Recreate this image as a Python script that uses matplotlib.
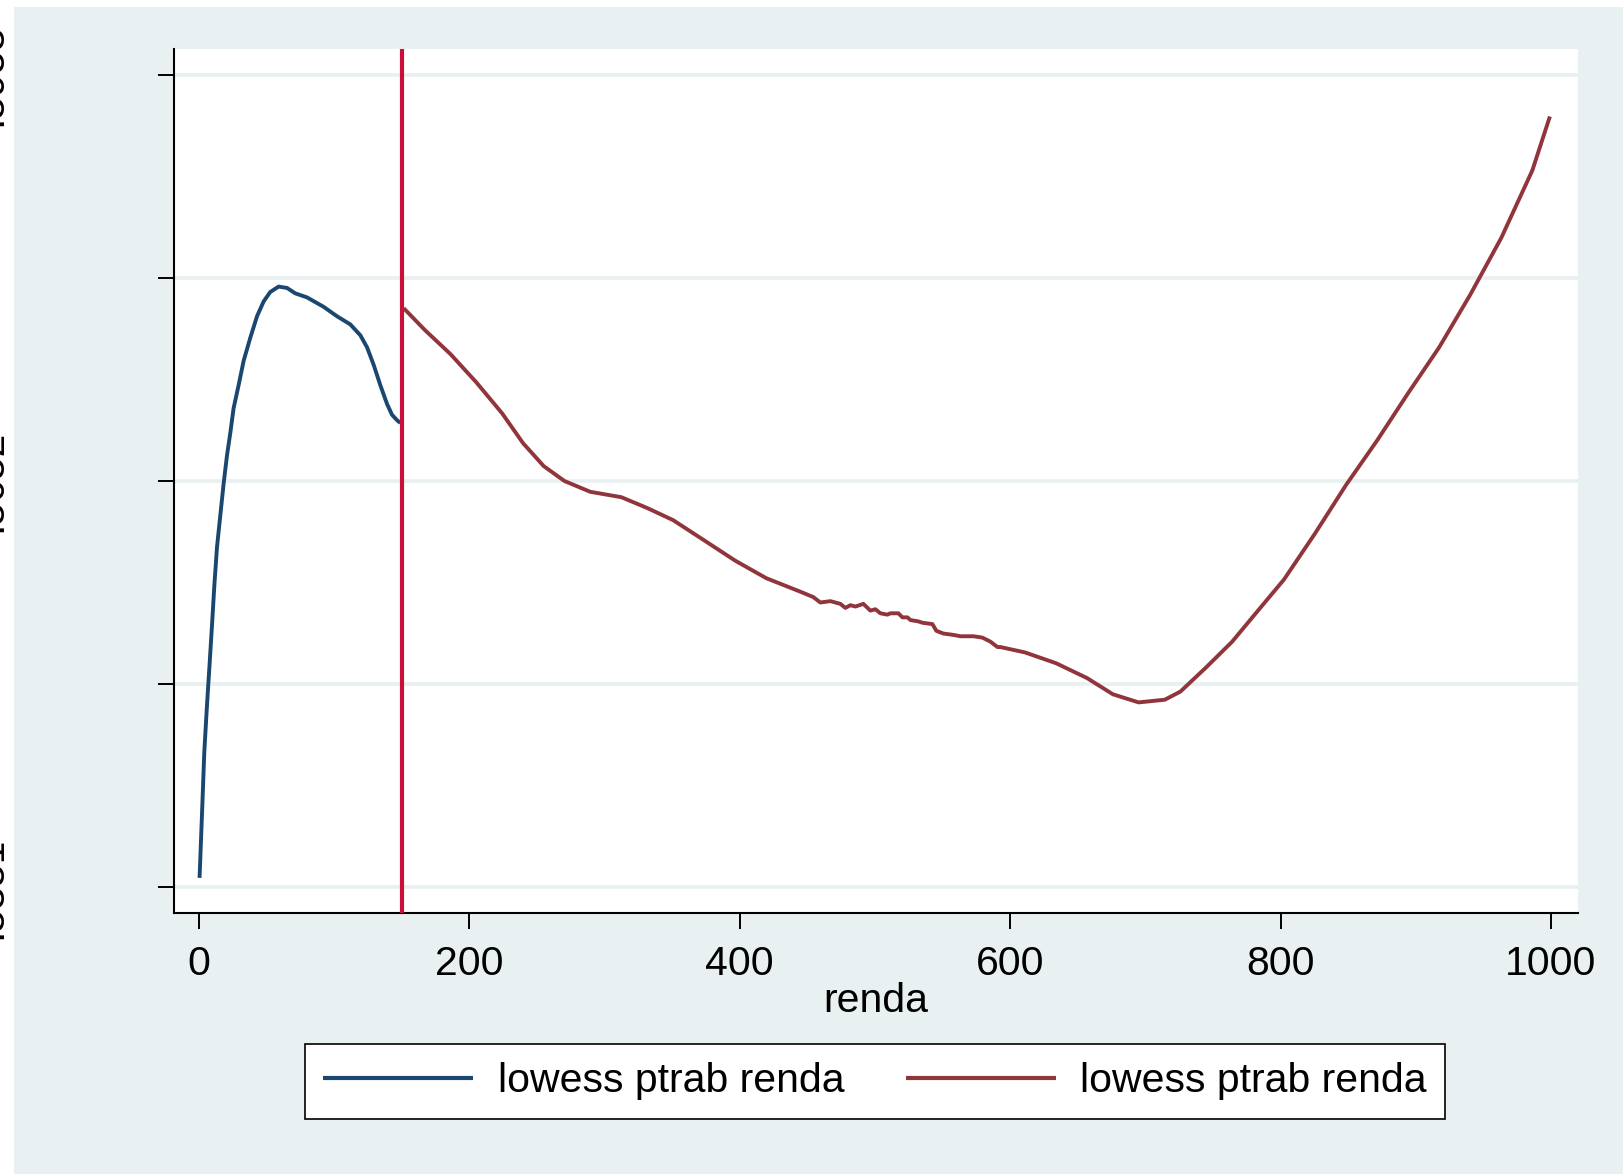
import matplotlib
matplotlib.use("Agg")
import matplotlib.pyplot as plt
from matplotlib.patches import Rectangle

# lowess fit of ptrab on renda, below the cutoff
renda_low = [0.4, 2.2, 3.9, 5.9, 7.8, 9.6, 11.3, 13.3, 15.8, 18.2, 20.7, 23.2, 25.6,
             29.3, 33, 37.9, 42.9, 47.8, 52.7, 58.9, 65.1, 71.2, 79.9, 92.2, 102.1,
             111.9, 119.3, 124.3, 129.2, 134.1, 139.1, 142.8, 146.5, 148.9]
ptrab_low = [.5358, .5405, .5451, .5486, .5516, .5545, .5574, .5603, .5627, .5650,
             .5671, .5688, .5706, .5723, .5741, .5758, .5774, .5785, .5792, .5796,
             .5795, .5791, .5788, .5781, .5774, .5768, .5760, .5751, .5738, .5723,
             .5709, .5701, .5697, .5695]

# lowess fit of ptrab on renda, above the cutoff
renda_high = [151.4, 166.9, 186, 205.2, 224.3, 239.7, 255, 270.3, 289.4, 312.4, 331.5,
              350.7, 373.7, 396.6, 419.6, 444.8, 454.4, 459.6, 467, 474.4, 478.1,
              481.8, 485.5, 491.4, 496.6, 500.3, 504, 509.2, 511.4, 517.3, 520.3,
              524, 526.2, 532.1, 535.1, 542.5, 545.4, 550.6, 558, 563.2, 572.8,
              579.4, 585.4, 590.6, 592.8, 611, 634, 656.9, 676, 695, 714.4, 725.9,
              745, 764.2, 783.3, 802.5, 825.4, 848.4, 871.4, 894.3, 917.3, 940.3,
              963.2, 986.2, 999.2]
ptrab_high = [.5780, .5764, .5746, .5725, .5702, .5680, .5663, .5652, .5644, .5640,
              .5632, .5623, .5608, .5593, .5580, .5570, .5566, .5562, .5563, .5561,
              .5558, .5560, .5559, .5561, .5556, .5557, .5554, .5553, .5554, .5554,
              .5551, .5551, .5549, .5548, .5547, .5546, .5541, .5539, .5538, .5537,
              .5537, .5536, .5533, .5529, .5529, .5525, .5517, .5506, .5494, .5488,
              .5490, .5496, .5514, .5533, .5556, .5579, .5613, .5649, .5682, .5717,
              .5751, .5790, .5832, .5882, .5922]

cutoff = 150
y_ticks = [.5351, .55015, .5652, .58025, .5953]
y_labels = [".5351", "", ".5652", "", ".5953"]
x_ticks = [0, 200, 400, 600, 800, 1000]
legend_labels = ["lowess ptrab renda", "lowess ptrab renda"]

bg = "#e8f0f2"
blue = "#1a476f"
maroon = "#90353b"
cranberry = "#c8103a"

plt.rcParams['font.family'] = ['Liberation Sans', 'DejaVu Sans']
fs = 29.5

fig = plt.figure(figsize=(16.23, 11.74), dpi=100, facecolor="white")
fig.patches.append(Rectangle((14 / 1623, 0), 1, 1 - 7 / 1174, transform=fig.transFigure,
                             facecolor=bg, edgecolor="none", zorder=-10))

ax = fig.add_axes([174 / 1623, 1 - 913 / 1174, (1578 - 174) / 1623, (913 - 49) / 1174])
ax.set_facecolor("white")

for yt in y_ticks:
    ax.axhline(yt, color=bg, lw=2.6, zorder=0)

l1, = ax.plot(renda_low, ptrab_low, color=blue, lw=2.8, solid_capstyle="butt")
l2, = ax.plot(renda_high, ptrab_high, color=maroon, lw=2.8, solid_capstyle="butt")
ax.axvline(cutoff, color=cranberry, lw=3, zorder=3)

ax.set_xlim(-18.5, 1020)
ax.set_ylim(.5332, .5972)

ax.spines['top'].set_visible(False)
ax.spines['right'].set_visible(False)
for s in ('left', 'bottom'):
    ax.spines[s].set_linewidth(1.5)

ax.set_xticks(x_ticks)
ax.set_xticklabels([str(v) for v in x_ticks], fontsize=fs)
ax.set_yticks(y_ticks)
ax.set_yticklabels(y_labels, fontsize=fs, rotation=90, va="center")
ax.tick_params(axis='x', length=11.5, width=1.4, pad=11.5)
ax.tick_params(axis='y', length=11.5, width=1.4, pad=107)
ax.set_xlabel("renda", fontsize=fs, labelpad=-0.5)

leg = fig.legend([l1, l2], legend_labels, loc="center", ncol=2,
                 bbox_to_anchor=(875 / 1623, 1 - 1081.5 / 1174), fontsize=fs,
                 handlelength=3.66, handletextpad=0.6, columnspacing=1.5,
                 borderpad=0.45, borderaxespad=0, fancybox=False, frameon=True,
                 framealpha=1)
leg.get_frame().set_edgecolor("black")
leg.get_frame().set_linewidth(1.2)
leg.get_frame().set_facecolor("white")
for h in leg.get_lines():
    h.set_linewidth(3)

fig.savefig("out.png", dpi=100, facecolor=fig.get_facecolor())
